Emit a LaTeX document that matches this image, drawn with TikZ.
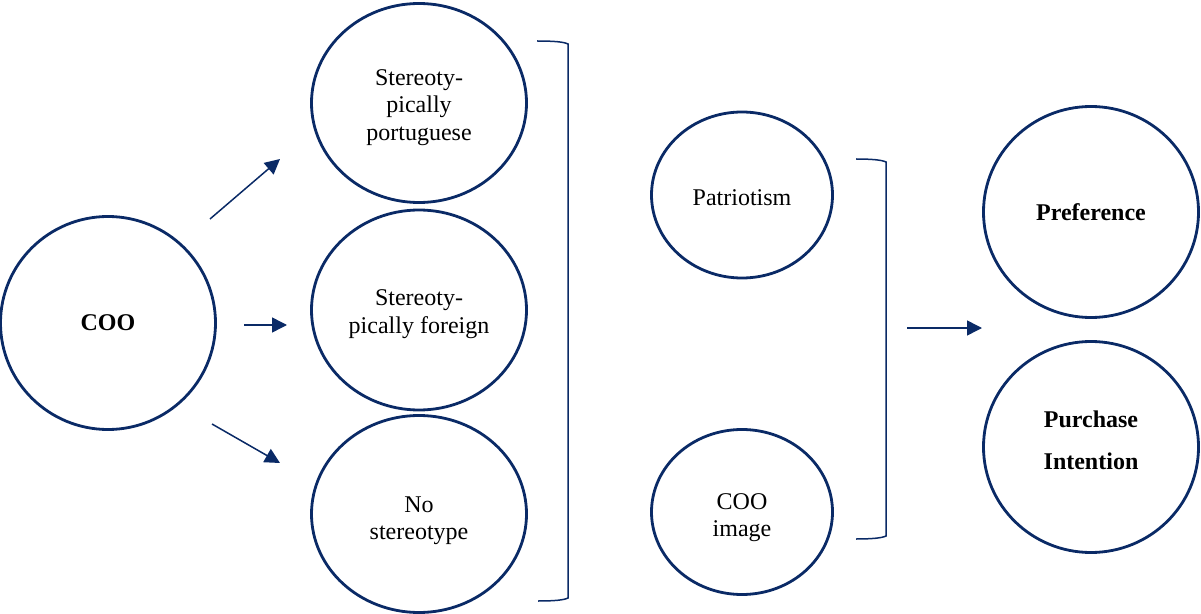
\documentclass[tikz,border=0pt]{standalone}
\usepackage{fontspec}
\setmainfont{Liberation Serif}
\usetikzlibrary{shapes.geometric,arrows.meta}
\definecolor{navy}{HTML}{0A2A66}
\begin{document}
\begin{tikzpicture}[x=1bp,y=-1bp,
  bub/.style={ellipse,draw=navy,line width=2.8bp,inner sep=0pt,align=center,
    font=\fontsize{24bp}{27.5bp}\selectfont,text=black},
  bubb/.style={bub,font=\fontsize{24bp}{27.5bp}\selectfont\bfseries},
  arr/.style={draw=navy,line width=1.5bp,-{Triangle[length=15bp,width=15bp]}},
  brk/.style={draw=navy,line width=1.5bp}]
\useasboundingbox (0,0) rectangle (1201,614);
% nodes
\node[bubb,minimum width=215bp,minimum height=213bp] (coo) at (108,323) {COO};
\node[bub,minimum width=215bp,minimum height=199bp] (sp) at (419,103) {\rule{0pt}{25bp}Stereoty-\\pically\\portuguese};
\node[bub,minimum width=215bp,minimum height=200bp] (sf) at (419,310) {\rule{0pt}{24bp}Stereoty-\\pically foreign};
\node[bub,minimum width=215bp,minimum height=197bp] (ns) at (419,514) {\rule{0pt}{29bp}No\\stereotype};
\node[bub,minimum width=181bp,minimum height=166bp] (pat) at (742,195) {\rule{0pt}{21bp}Patriotism};
\node[bub,minimum width=181bp,minimum height=165bp] (cim) at (742,512) {\rule{0pt}{27bp}COO\\image};
\node[bubb,minimum width=215bp,minimum height=211bp] (pref) at (1091,212) {Preference};
\node[bubb,minimum width=215bp,minimum height=211bp] (pi) at (1091,447) {Purchase\\[14bp]Intention\rule[-14bp]{0pt}{0pt}};
% arrow end points
\coordinate (a1s) at (210,219); \coordinate (a1e) at (280,159);
\coordinate (a2s) at (244,325); \coordinate (a2e) at (287,325);
\coordinate (a3s) at (212,424); \coordinate (a3e) at (280,463);
\coordinate (a4s) at (907,328); \coordinate (a4e) at (982,328);
\draw[arr] (a1s) -- (a1e);
\draw[arr] (a2s) -- (a2e);
\draw[arr] (a3s) -- (a3e);
\draw[arr] (a4s) -- (a4e);
% brackets
\coordinate (b1t) at (537,41); \coordinate (b1b) at (538,601);
\coordinate (b2t) at (856,159); \coordinate (b2b) at (856,539);
\draw[brk] (b1t) .. controls (555,41) and (564,42) .. (568,44) -- (568,598)
  .. controls (564,600) and (555,601) .. (b1b);
\draw[brk] (b2t) .. controls (872,159) and (882,160) .. (886,162) -- (886,536)
  .. controls (882,538) and (872,539) .. (b2b);
\end{tikzpicture}
\end{document}
